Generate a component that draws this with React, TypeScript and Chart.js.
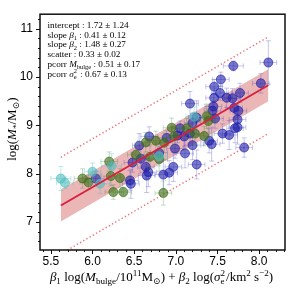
import { useEffect, useRef } from 'react';
import { Chart, registerables } from 'chart.js';
Chart.register(...registerables);

const xTicks = [5.5, 6.0, 6.5, 7.0, 7.5, 8.0];
const yTicks = [7, 8, 9, 10, 11];
const xLimits = [5.37, 8.31];
const yLimits = [6.42, 11.3];

const fitX = [5.62, 8.11];
const fitY = [7.34, 9.83];
const bandUpperY = [7.67, 10.16];
const bandLowerY = [7.01, 9.5];
const outerUpperY = [8.34, 10.83];
const outerLowerY = [6.34, 8.83];

const blueX = [6.04, 6.45, 6.46, 6.48, 6.56, 6.58, 6.64, 6.65, 6.67, 6.68, 6.80, 6.85, 6.89, 6.92, 6.97, 6.99, 7.02, 7.05, 7.10, 7.11, 7.17, 7.17, 7.20, 7.20, 7.25, 7.25, 7.40, 7.43, 7.44, 7.45, 7.46, 7.46, 7.47, 7.53, 7.54, 7.56, 7.61, 7.64, 7.68, 7.69, 7.70, 7.71, 7.74, 7.75, 7.74, 7.77, 7.82, 8.02, 8.11];
const blueY = [7.90, 7.86, 7.79, 8.23, 8.58, 8.31, 8.14, 7.96, 8.03, 8.77, 8.43, 7.98, 8.74, 8.02, 8.14, 8.52, 8.79, 8.94, 8.77, 8.42, 9.45, 8.83, 9.05, 8.59, 9.16, 8.19, 8.68, 8.61, 9.30, 9.39, 9.57, 9.80, 9.14, 9.67, 9.95, 8.83, 9.57, 8.80, 9.56, 10.23, 9.36, 8.94, 8.96, 9.30, 9.12, 9.67, 8.54, 9.87, 10.30];
const blueXErr = [0.10, 0.10, 0.10, 0.10, 0.08, 0.10, 0.10, 0.10, 0.10, 0.10, 0.10, 0.10, 0.10, 0.10, 0.10, 0.10, 0.10, 0.10, 0.10, 0.10, 0.10, 0.10, 0.10, 0.10, 0.10, 0.10, 0.10, 0.10, 0.10, 0.10, 0.10, 0.10, 0.10, 0.10, 0.10, 0.10, 0.10, 0.10, 0.10, 0.12, 0.10, 0.10, 0.10, 0.10, 0.10, 0.10, 0.10, 0.10, 0.10];
const blueYErr = [0.15, 0.20, 0.30, 0.20, 0.25, 0.20, 0.25, 0.35, 0.30, 0.20, 0.20, 0.30, 0.15, 0.25, 0.30, 0.20, 0.15, 0.15, 0.20, 0.30, 0.25, 0.20, 0.20, 0.30, 0.35, 0.30, 0.25, 0.35, 0.20, 0.25, 0.20, 0.15, 0.20, 0.15, 0.15, 0.20, 0.20, 0.30, 0.20, 0.10, 0.20, 0.30, 0.35, 0.25, 0.20, 0.20, 0.20, 0.20, 0.45];

const greenX = [5.88, 5.95, 6.20, 6.22, 6.25, 6.33, 6.37, 6.52, 6.64, 6.69, 6.76, 6.80, 6.86, 6.85, 6.95, 6.98, 7.13, 7.23, 7.34, 7.37, 7.39];
const greenY = [7.90, 7.82, 8.25, 7.95, 7.62, 7.91, 7.62, 8.39, 8.65, 8.35, 8.68, 8.30, 8.64, 7.60, 8.95, 8.77, 8.94, 8.83, 8.78, 9.19, 9.09];
const greenXErr = [0.10, 0.10, 0.10, 0.12, 0.10, 0.10, 0.10, 0.10, 0.10, 0.10, 0.10, 0.10, 0.10, 0.10, 0.10, 0.10, 0.10, 0.10, 0.10, 0.10, 0.10];
const greenYErr = [0.20, 0.15, 0.20, 0.20, 0.15, 0.20, 0.10, 0.20, 0.20, 0.25, 0.20, 0.25, 0.20, 0.25, 0.20, 0.20, 0.20, 0.25, 0.20, 0.25, 0.25];

const cyanX = [5.62, 5.67, 6.00, 6.09, 6.23, 6.80, 7.22];
const cyanY = [7.90, 7.81, 8.04, 7.79, 8.16, 8.36, 9.18];
const cyanXErr = [0.12, 0.10, 0.10, 0.12, 0.12, 0.10, 0.10];
const cyanYErr = [0.25, 0.12, 0.18, 0.20, 0.25, 0.20, 0.20];

type Seg = { t: string; i?: boolean; sub?: boolean; sup?: boolean; subsup?: [string, string] };

const statLines: Seg[][] = [
  [{ t: 'intercept : 1.72 ± 1.24' }],
  [{ t: 'slope ' }, { t: 'β', i: true }, { t: '1', sub: true }, { t: ' : 0.41 ± 0.12' }],
  [{ t: 'slope ' }, { t: 'β', i: true }, { t: '2', sub: true }, { t: ' : 1.48 ± 0.27' }],
  [{ t: 'scatter : 0.33 ± 0.02' }],
  [{ t: 'pcorr ' }, { t: 'M', i: true }, { t: 'bulge', sub: true }, { t: ' : 0.51 ± 0.17' }],
  [{ t: 'pcorr ' }, { t: 'σ', i: true }, { t: '', subsup: ['e', '2'] }, { t: ' : 0.67 ± 0.13' }],
];

const yLabel: Seg[] = [{ t: 'log(' }, { t: 'M', i: true }, { t: '*', sub: true }, { t: '/M' }, { t: '⊙', sub: true }, { t: ')' }];
const xLabel: Seg[] = [
  { t: 'β', i: true }, { t: '1', sub: true }, { t: ' log(' }, { t: 'M', i: true }, { t: 'bulge', sub: true },
  { t: '/10' }, { t: '11', sup: true }, { t: 'M' }, { t: '⊙', sub: true }, { t: ') + ' },
  { t: 'β', i: true }, { t: '2', sub: true }, { t: ' log(' }, { t: 'σ', i: true }, { t: '', subsup: ['e', '2'] },
  { t: '/km' }, { t: '2', sup: true }, { t: ' s' }, { t: '−2', sup: true }, { t: ')' },
];

const SERIF = '"Liberation Serif", "DejaVu Serif", serif';

function font(size: number, italic?: boolean) {
  return `${italic ? 'italic ' : ''}${size}px ${SERIF}`;
}

function segWidth(ctx: CanvasRenderingContext2D, s: Seg, size: number) {
  const small = size * 0.7;
  if (s.subsup) {
    ctx.font = font(small);
    return Math.max(ctx.measureText(s.subsup[0]).width, ctx.measureText(s.subsup[1]).width) + 1;
  }
  ctx.font = font(s.sub || s.sup ? small : size, s.i);
  return ctx.measureText(s.t).width;
}

function drawRich(ctx: CanvasRenderingContext2D, segs: Seg[], x: number, y: number, size: number, align: 'left' | 'center') {
  let total = 0;
  for (const s of segs) total += segWidth(ctx, s, size);
  let cx = align === 'center' ? x - total / 2 : x;
  ctx.textAlign = 'left';
  ctx.textBaseline = 'alphabetic';
  ctx.fillStyle = '#000';
  const small = size * 0.7;
  for (const s of segs) {
    const w = segWidth(ctx, s, size);
    if (s.subsup) {
      ctx.font = font(small);
      ctx.fillText(s.subsup[0], cx, y + size * 0.25);
      ctx.fillText(s.subsup[1], cx, y - size * 0.38);
    } else if (s.sub) {
      ctx.font = font(small, s.i);
      ctx.fillText(s.t, cx, y + size * 0.25);
    } else if (s.sup) {
      ctx.font = font(small, s.i);
      ctx.fillText(s.t, cx, y - size * 0.38);
    } else {
      ctx.font = font(size, s.i);
      ctx.fillText(s.t, cx, y);
    }
    cx += w;
  }
}

const errorBarPlugin = {
  id: 'errorBars',
  beforeDatasetDraw(chart: any, args: any) {
    const ds = chart.data.datasets[args.index];
    if (!ds.xErr) return;
    const { ctx, chartArea, scales } = chart;
    const xs = scales.x;
    const ys = scales.y;
    ctx.save();
    ctx.beginPath();
    ctx.rect(chartArea.left, chartArea.top, chartArea.right - chartArea.left, chartArea.bottom - chartArea.top);
    ctx.clip();
    ctx.strokeStyle = ds.errColor;
    ctx.lineWidth = 1;
    const cap = 2.5;
    ds.data.forEach((p: any, k: number) => {
      const px = xs.getPixelForValue(p.x);
      const py = ys.getPixelForValue(p.y);
      const x0 = xs.getPixelForValue(p.x - ds.xErr[k]);
      const x1 = xs.getPixelForValue(p.x + ds.xErr[k]);
      const y0 = ys.getPixelForValue(p.y - ds.yErr[k]);
      const y1 = ys.getPixelForValue(p.y + ds.yErr[k]);
      ctx.beginPath();
      ctx.moveTo(x0, py); ctx.lineTo(x1, py);
      ctx.moveTo(px, y0); ctx.lineTo(px, y1);
      ctx.moveTo(x0, py - cap); ctx.lineTo(x0, py + cap);
      ctx.moveTo(x1, py - cap); ctx.lineTo(x1, py + cap);
      ctx.moveTo(px - cap, y0); ctx.lineTo(px + cap, y0);
      ctx.moveTo(px - cap, y1); ctx.lineTo(px + cap, y1);
      ctx.stroke();
    });
    ctx.restore();
  },
};

const framePlugin = {
  id: 'frame',
  afterDraw(chart: any) {
    const { ctx, chartArea, scales } = chart;
    const { left, right, top, bottom } = chartArea;
    const xs = scales.x;
    const ys = scales.y;
    ctx.save();
    ctx.strokeStyle = '#111';
    ctx.lineWidth = 1;
    ctx.beginPath();
    for (let k = 54; k <= 83; k++) {
      const v = k / 10;
      const px = Math.round(xs.getPixelForValue(v)) + 0.5;
      if (px < left || px > right) continue;
      const major = k % 5 === 0;
      ctx.moveTo(px, bottom);
      ctx.lineTo(px, bottom + (major ? 4 : 2));
    }
    for (let k = 33; k <= 56; k++) {
      const v = k / 5;
      const py = Math.round(ys.getPixelForValue(v)) + 0.5;
      if (py < top || py > bottom) continue;
      const major = k % 5 === 0;
      ctx.moveTo(left, py);
      ctx.lineTo(left - (major ? 4 : 2), py);
    }
    ctx.stroke();
    ctx.lineWidth = 1.5;
    ctx.strokeStyle = '#111';
    ctx.strokeRect(left, top, right - left, bottom - top);
    ctx.restore();

    ctx.save();
    statLines.forEach((line, k) => {
      drawRich(ctx, line, left + 7.5, top + 13.5 + k * 9.8, 9.2, 'left');
    });
    drawRich(ctx, xLabel, (left + right) / 2 - 1, 281, 13, 'center');
    ctx.translate(16, (top + bottom) / 2 - 3);
    ctx.rotate(-Math.PI / 2);
    drawRich(ctx, yLabel, 0, 0, 13, 'center');
    ctx.restore();
  },
};

function pts(xs: number[], ys: number[]) {
  return xs.map((x, k) => ({ x, y: ys[k] }));
}

export default function App() {
  const ref = useRef<HTMLCanvasElement>(null);
  useEffect(() => {
    if (!ref.current) return;
    const tickFont = { family: '"Liberation Sans", Arial, sans-serif', size: 12 };
    const chart = new Chart(ref.current, {
      type: 'scatter',
      data: {
        datasets: [
          {
            type: 'line', data: pts(fitX, fitY), borderColor: 'rgb(220,30,60)', borderWidth: 1.8,
            pointRadius: 0, fill: false, order: 0,
          } as any,
          {
            data: pts(cyanX, cyanY), backgroundColor: 'rgba(80,190,190,0.6)', borderColor: 'rgba(80,190,190,0.75)',
            pointRadius: 4.5, borderWidth: 0.8, order: 3,
            xErr: cyanXErr, yErr: cyanYErr, errColor: 'rgba(80,190,190,0.35)',
          } as any,
          {
            data: pts(greenX, greenY), backgroundColor: 'rgba(60,110,20,0.62)', borderColor: 'rgba(60,110,20,0.8)',
            pointRadius: 4.5, borderWidth: 0.8, order: 4,
            xErr: greenXErr, yErr: greenYErr, errColor: 'rgba(60,140,60,0.3)',
          } as any,
          {
            data: pts(blueX, blueY), backgroundColor: 'rgba(30,30,170,0.6)', borderColor: 'rgba(30,30,170,0.8)',
            pointRadius: 4.5, borderWidth: 0.8, order: 5,
            xErr: blueXErr, yErr: blueYErr, errColor: 'rgba(80,80,200,0.32)',
          } as any,
          {
            type: 'line', data: pts(fitX, outerUpperY), borderColor: 'rgba(230,90,100,0.85)', borderWidth: 1.5,
            borderDash: [1.3, 2.4], pointRadius: 0, fill: false, order: 8,
          } as any,
          {
            type: 'line', data: pts(fitX, outerLowerY), borderColor: 'rgba(230,90,100,0.85)', borderWidth: 1.5,
            borderDash: [1.3, 2.4], pointRadius: 0, fill: false, order: 8,
          } as any,
          {
            type: 'line', data: pts(fitX, bandUpperY), borderWidth: 0, borderColor: 'rgba(0,0,0,0)',
            backgroundColor: 'rgba(214,110,110,0.5)', pointRadius: 0, fill: '+1', order: 10,
          } as any,
          {
            type: 'line', data: pts(fitX, bandLowerY), borderWidth: 0, borderColor: 'rgba(0,0,0,0)',
            pointRadius: 0, fill: false, order: 10,
          } as any,
        ],
      },
      options: {
        responsive: false,
        animation: false,
        events: [],
        layout: { padding: { top: 6, right: 6, left: 0, bottom: 0 } },
        plugins: { legend: { display: false }, tooltip: { enabled: false } },
        scales: {
          x: {
            type: 'linear', min: xLimits[0], max: xLimits[1],
            afterFit: (s: any) => { s.height = 39; },
            afterBuildTicks: (s: any) => { s.ticks = xTicks.map((v) => ({ value: v })); },
            grid: { display: false, drawTicks: false },
            border: { display: false },
            ticks: {
              padding: 4, color: '#000', font: tickFont, maxRotation: 0, autoSkip: false,
              callback: (v: any) => Number(v).toFixed(1),
            },
          },
          y: {
            type: 'linear', min: yLimits[0], max: yLimits[1],
            afterFit: (s: any) => { s.width = 40; },
            afterBuildTicks: (s: any) => { s.ticks = yTicks.map((v) => ({ value: v })); },
            grid: { display: false, drawTicks: false },
            border: { display: false },
            ticks: {
              padding: 7, color: '#000', font: tickFont, autoSkip: false,
              callback: (v: any) => String(v),
            },
          },
        },
      } as any,
      plugins: [errorBarPlugin, framePlugin],
    });
    return () => chart.destroy();
  }, []);
  return (
    <canvas
      ref={ref}
      width={291}
      height={289}
      style={{ display: 'block', position: 'absolute', left: 0, top: 0 }}
    />
  );
}
